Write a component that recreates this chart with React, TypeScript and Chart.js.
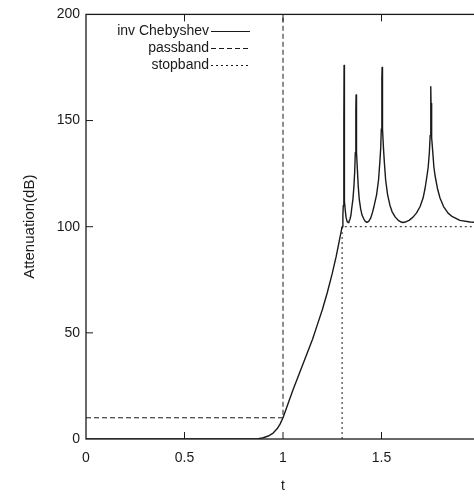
import { useEffect, useRef } from "react";
import { Chart, registerables } from "chart.js";

Chart.register(...registerables);

// ---- data ----
const xTicks = [0, 0.5, 1, 1.5, 2];
const xTickLabels = ["0", "0.5", "1", "1.5", ""];
const yTicks = [0, 50, 100, 150, 200];
const seriesNames = ["inv Chebyshev", "passband", "stopband"];

const invChebyshev: [number, number][] = [
  // flat passband and transition band
  [0, 0], [0.5, 0], [0.8, 0], [0.85, 0.05], [0.875, 0.2], [0.9, 0.6], [0.925, 1.4],
  [0.95, 2.8], [0.97, 4.8], [0.985, 7], [1.0, 10], [1.025, 16.5], [1.05, 23],
  [1.075, 29], [1.1, 35], [1.125, 41], [1.15, 47], [1.175, 54], [1.2, 61],
  [1.225, 69], [1.25, 78], [1.27, 86], [1.285, 93], [1.3, 100],
  // peak 1
  [1.304, 105], [1.306, 110], [1.308, 120], [1.309, 135], [1.3095, 150], [1.31, 176],
  [1.3105, 150], [1.311, 135], [1.312, 120], [1.314, 112], [1.317, 107],
  [1.32, 104.5], [1.325, 102.5], [1.33, 102],
  // peak 2
  [1.335, 102.5], [1.34, 103.5], [1.345, 105.5], [1.348, 108], [1.355, 113],
  [1.36, 119], [1.364, 126], [1.367, 135], [1.369, 145], [1.3705, 155], [1.371, 162],
  [1.3715, 155], [1.373, 145], [1.375, 135], [1.378, 126], [1.382, 119],
  [1.387, 113], [1.394, 108.5], [1.401, 105.5], [1.411, 103.5], [1.418, 102.5],
  [1.426, 102],
  // peak 3
  [1.435, 102.5], [1.445, 104], [1.455, 107], [1.463, 110], [1.475, 115],
  [1.485, 122], [1.492, 131], [1.496, 137], [1.499, 146], [1.501, 158],
  [1.5025, 170], [1.503, 175], [1.5035, 170], [1.505, 158], [1.507, 146],
  [1.51, 137], [1.514, 131], [1.521, 122], [1.531, 115], [1.543, 110],
  [1.554, 107], [1.57, 104.5], [1.585, 103], [1.6, 102.2], [1.609, 102],
  // peak 4
  [1.62, 102.2], [1.64, 103], [1.66, 104.5], [1.678, 106.5], [1.696, 109.5],
  [1.711, 113.5], [1.721, 118], [1.731, 124], [1.737, 128], [1.743, 135],
  [1.747, 143], [1.749, 150], [1.7505, 158], [1.751, 166], [1.7515, 158],
  [1.753, 150], [1.756, 142], [1.76, 135.5], [1.766, 128], [1.772, 124],
  [1.784, 118], [1.797, 113.5], [1.815, 109.5], [1.838, 106.4], [1.86, 104.7],
  [1.898, 103], [1.95, 102.2], [2.0, 102],
];
const passband: [number, number][] = [[0, 10], [1, 10], [1, 200]];
const stopband: [number, number][] = [[1.3, 0], [1.3, 100], [2, 100]];

const FONT = "'Liberation Sans', Arial, Helvetica, sans-serif";
const INK = "#1a1a1a";

const toPts = (arr: [number, number][]) => arr.map(([x, y]) => ({ x, y }));

export default function App() {
  const ref = useRef<HTMLCanvasElement>(null);

  useEffect(() => {
    if (!ref.current) return;

    const frame = {
      id: "frame",
      afterDraw(chart: any) {
        const { ctx, chartArea: a, scales } = chart;
        ctx.save();
        ctx.strokeStyle = INK;
        ctx.lineWidth = 1.3;
        ctx.setLineDash([]);
        ctx.strokeRect(a.left, a.top, a.right - a.left, a.bottom - a.top);
        ctx.lineWidth = 1;
        const tl = 7;
        xTicks.slice(1, -1).forEach((v) => {
          const px = scales.x.getPixelForValue(v);
          ctx.beginPath();
          ctx.moveTo(px, a.bottom);
          ctx.lineTo(px, a.bottom - tl);
          ctx.moveTo(px, a.top);
          ctx.lineTo(px, a.top + tl);
          ctx.stroke();
        });
        yTicks.slice(1, -1).forEach((v) => {
          const py = scales.y.getPixelForValue(v);
          ctx.beginPath();
          ctx.moveTo(a.left, py);
          ctx.lineTo(a.left + tl, py);
          ctx.stroke();
        });
        ctx.restore();
      },
    };

    const keyBox = {
      id: "keyBox",
      afterDraw(chart: any) {
        const { ctx } = chart;
        ctx.save();
        ctx.font = `14px ${FONT}`;
        ctx.fillStyle = INK;
        ctx.textAlign = "right";
        ctx.textBaseline = "middle";
        chart.data.datasets.forEach((ds: any, i: number) => {
          const y = 31 + i * 17;
          ctx.fillText(ds.label, 209, y);
          ctx.strokeStyle = INK;
          ctx.lineWidth = 1;
          ctx.setLineDash(ds.borderDash || []);
          ctx.beginPath();
          ctx.moveTo(211, y + 0.5);
          ctx.lineTo(250, y + 0.5);
          ctx.stroke();
        });
        ctx.restore();
      },
    };

    const chart = new Chart(ref.current, {
      type: "line",
      data: {
        datasets: [
          {
            label: seriesNames[0],
            data: toPts(invChebyshev),
            borderColor: INK,
            borderWidth: 1.4,
            borderJoinStyle: "round",
            pointRadius: 0,
            tension: 0,
          },
          {
            label: seriesNames[1],
            data: toPts(passband),
            borderColor: INK,
            borderWidth: 1,
            borderDash: [5, 3],
            pointRadius: 0,
          },
          {
            label: seriesNames[2],
            data: toPts(stopband),
            borderColor: INK,
            borderWidth: 1,
            borderDash: [2, 3],
            pointRadius: 0,
          },
        ],
      },
      options: {
        responsive: false,
        animation: false,
        devicePixelRatio: 1,
        layout: { padding: { top: 13, right: 20, bottom: 0, left: 0 } },
        plugins: { legend: { display: false }, tooltip: { enabled: false } },
        scales: {
          x: {
            type: "linear",
            min: 0,
            max: 2,
            afterBuildTicks: (s: any) => {
              s.ticks = xTicks.map((v) => ({ value: v }));
            },
            afterFit: (s: any) => {
              s.height = 57;
            },
            ticks: {
              callback: (v: any) => xTickLabels[xTicks.indexOf(Number(v))] ?? "",
              font: { family: FONT, size: 14 },
              color: INK,
              padding: 11,
              maxRotation: 0,
              autoSkip: false,
            },
            grid: { display: false, drawTicks: false },
            border: { display: false },
            title: {
              display: true,
              text: "t",
              font: { family: FONT, size: 14 },
              color: INK,
              padding: { top: 4, bottom: 1 },
            },
          },
          y: {
            type: "linear",
            min: 0,
            max: 200,
            afterBuildTicks: (s: any) => {
              s.ticks = yTicks.map((v) => ({ value: v }));
            },
            afterFit: (s: any) => {
              s.width = 86;
            },
            ticks: {
              font: { family: FONT, size: 14 },
              color: INK,
              padding: 6,
            },
            grid: { display: false, drawTicks: false },
            border: { display: false },
            title: {
              display: true,
              text: "Attenuation(dB)",
              font: { family: FONT, size: 15 },
              color: INK,
              padding: { top: 21, bottom: 4 },
            },
          },
        },
      },
      plugins: [frame, keyBox],
    } as any);

    return () => chart.destroy();
  }, []);

  return (
    <div
      style={{
        position: "fixed",
        left: 0,
        top: 0,
        width: 474,
        height: 496,
        overflow: "hidden",
        background: "#fff",
      }}
    >
      <canvas ref={ref} width={500} height={496} style={{ display: "block" }} />
    </div>
  );
}
